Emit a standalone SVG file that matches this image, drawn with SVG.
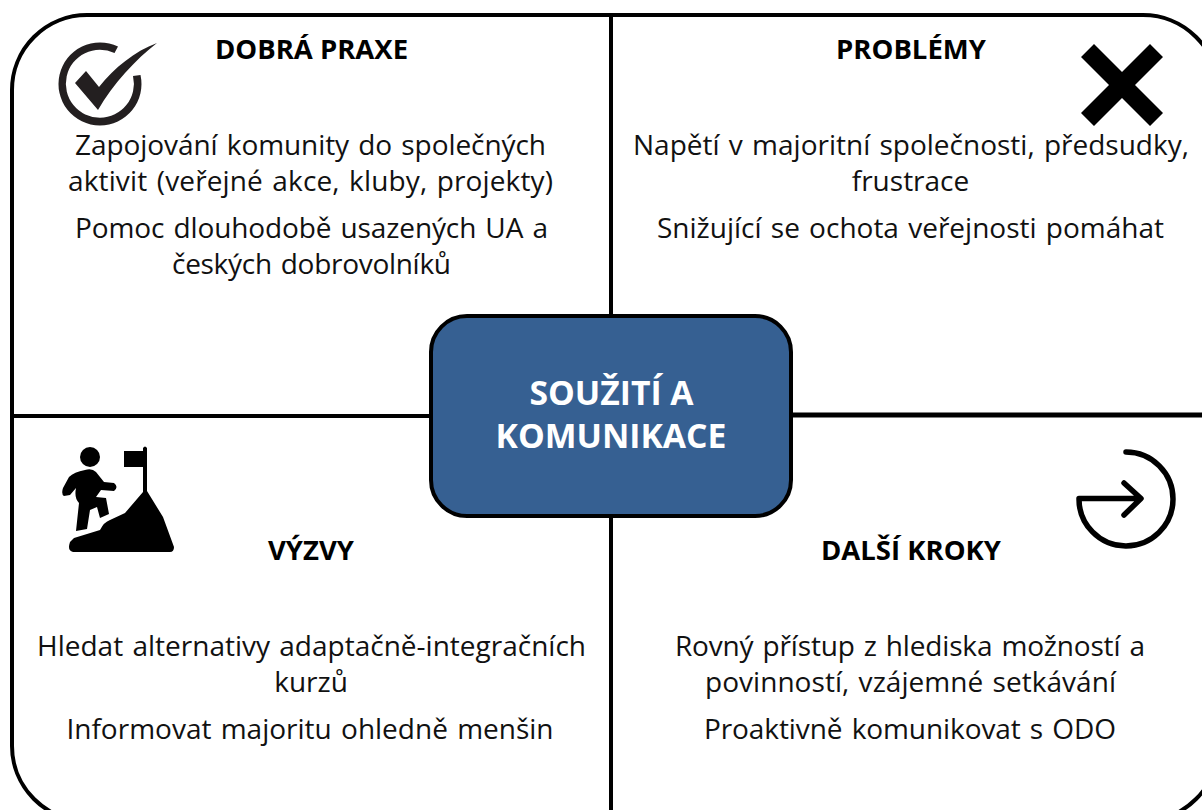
<svg xmlns="http://www.w3.org/2000/svg" width="1202" height="810" viewBox="0 0 1202 810">
<style>
text{font-family:"Open Sans","Noto Sans","Liberation Sans",sans-serif;text-anchor:middle;fill:#111}
.h{font-size:27.5px;font-weight:700;fill:#000}
.b{font-size:28px;word-spacing:2px}
.c{font-size:33.7px;font-weight:700;fill:#fff}
.l{fill:none;stroke:#000;stroke-width:4}
</style>
<rect width="1202" height="810" fill="#fff"/>
<g id="connectors">
<rect class="l" x="12" y="15" width="1206" height="806" rx="75" ry="75"/>
<path class="l" d="M611 15V810M12 416H432"/>
<path class="l" style="stroke-width:5" d="M790 415H1202"/>
</g>
<g id="center">
<rect x="431" y="316" width="360" height="200" rx="36" fill="#366092" stroke="#000" stroke-width="4"/>
<text class="c" x="611.5" y="405">SOUŽITÍ A</text>
<text class="c" x="611" y="448">KOMUNIKACE</text>
</g>
<g id="dobra-praxe">
<path fill="#231f20" d="M118 46.6A41.5 41.5 0 1 0 140.5 75L133 76A34 34 0 1 1 114.5 53Z"/>
<path fill="#231f20" d="M75 83L86 71L99 87C114 68 135 51 157 43C136 59 113 84 98 110Z"/>
<text class="h" x="311.5" y="59">DOBRÁ PRAXE</text>
<text class="b" x="310.5" y="155" textLength="471">Zapojování komunity do společných</text>
<text class="b" x="310.5" y="191" textLength="485">aktivit (veřejné akce, kluby, projekty)</text>
<text class="b" x="311.5" y="238" textLength="473">Pomoc dlouhodobě usazených UA a</text>
<text class="b" x="311.5" y="274" textLength="279">českých dobrovolníků</text>
</g>
<g id="problemy">
<path fill="#000" d="M1094 44L1122 72L1150 44L1163 57L1135 85L1163 113L1150 126L1122 98L1094 126L1081 113L1109 85L1081 57Z"/>
<text class="h" x="911" y="59">PROBLÉMY</text>
<text class="b" x="911" y="155">Napětí v majoritní společnosti, předsudky,</text>
<text class="b" x="910.5" y="191">frustrace</text>
<text class="b" x="910.5" y="238">Snižující se ochota veřejnosti pomáhat</text>
</g>
<g id="vyzvy">
<circle cx="90" cy="457" r="10" fill="#000"/>
<path fill="#000" d="M85 470Q92 468 96 472L104 482L114 483Q119 487 114 491L101 490L96 497L106 498L109 514L100 518L97 507L90 510L87 529L76 531L79 503Q74 498 76 488L70 495L64 496Q61 494 63 488L69 477Q74 472 85 470Z"/>
<path fill="#000" d="M124 451H143V448Q145 445 147 448V491L163 517L174 547Q174 552 170 552H73Q67 551 70 542L74 538L100 530Q104 522 110 520L125 513L143 492V467H124Z"/>
<text class="h" x="311" y="560">VÝZVY</text>
<text class="b" x="311.5" y="656" textLength="549">Hledat alternativy adaptačně-integračních</text>
<text class="b" x="311" y="692">kurzů</text>
<text class="b" x="310" y="739">Informovat majoritu ohledně menšin</text>
</g>
<g id="dalsi-kroky">
<path fill="none" stroke="#000" stroke-width="5.5" stroke-linecap="round" stroke-linejoin="round" d="M1126 452A47 47 0 1 1 1079 498.5H1140M1124 483L1141 498.5L1124 515"/>
<text class="h" x="911" y="560">DALŠÍ KROKY</text>
<text class="b" x="910" y="656" textLength="470">Rovný přístup z hlediska možností a</text>
<text class="b" x="910.5" y="692" textLength="411">povinností, vzájemné setkávání</text>
<text class="b" x="910" y="739" textLength="412">Proaktivně komunikovat s ODO</text>
</g>
</svg>
